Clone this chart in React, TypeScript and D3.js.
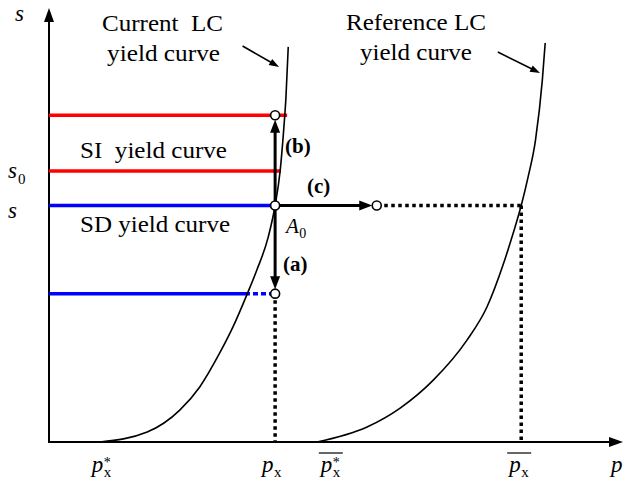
import React from 'react';
import * as d3 from 'd3';

const W = 624;
const H = 482;

// Yield curves in the (p, s) plane: [p, s]
const currentLC: [number, number][] = [
  [8.9, 0], [17.2, 2.3], [22.9, 7.4], [26.4, 12.8], [29.9, 20.7], [32.2, 26.7],
  [34.7, 34.4], [36.4, 40.0], [38.4, 47.7], [39.6, 55.0], [40.5, 63.3],
  [41.1, 72.6], [41.5, 80.2], [41.9, 91.9],
];
const referenceLC: [number, number][] = [
  [46.9, 0], [55.7, 3.5], [61.5, 7.9], [67.3, 14.4], [73.2, 23.7], [76.7, 31.4],
  [79.6, 41.5], [81.3, 48.6], [82.7, 55.0], [83.9, 61.6], [85.2, 70.2],
  [86.4, 84.2], [86.9, 92.8],
];

// Stress levels
const sA0 = 55;
const siLevels = [76, 63];
const siEnds = [41.7, 40.6];
const sdLevels = [55, 34.5];
const sdSolidEnd = 35.2;

// Key positions on the p axis
const pXStar = 8.9;
const pX = 39.6;
const pXStarBar = 46.9;
const pXBar = 82.7;
const pShift = 57.4;

// Pointer arrows from the curve captions: [from, to]
const currentPointer: [number, number][] = [[33.9, 92.1], [40.3, 87.2]];
const referencePointer: [number, number][] = [[78.6, 90.7], [86.0, 85.8]];

const xScale = d3.scaleLinear().domain([0, 100]).range([49, 620]);
const yScale = d3.scaleLinear().domain([0, 100]).range([442, 12]);

const curveLine = d3
  .line<[number, number]>()
  .x((d) => xScale(d[0]))
  .y((d) => yScale(d[1]))
  .curve(d3.curveMonotoneX);

const SERIF = '"Liberation Serif", "Times New Roman", serif';

function Arrow({ x1, y1, x2, y2, width, headLen, headW }: {
  x1: number; y1: number; x2: number; y2: number; width: number; headLen: number; headW: number;
}) {
  const dx = x2 - x1;
  const dy = y2 - y1;
  const len = Math.hypot(dx, dy);
  const ux = dx / len;
  const uy = dy / len;
  const bx = x2 - ux * headLen;
  const by = y2 - uy * headLen;
  const px = -uy * headW / 2;
  const py = ux * headW / 2;
  return (
    <g>
      <line x1={x1} y1={y1} x2={bx + ux} y2={by + uy} stroke="#000" strokeWidth={width} />
      <polygon points={`${x2},${y2} ${bx + px},${by + py} ${bx - px},${by - py}`} fill="#000" />
    </g>
  );
}

function OpenDot({ x, y }: { x: number; y: number }) {
  return <circle cx={x} cy={y} r={4.5} fill="#fff" stroke="#000" strokeWidth={1.6} />;
}

// p with subscript x, optional superscript star and overbar
function PLabel({ x, star, bar }: { x: number; star?: boolean; bar?: boolean }) {
  return (
    <g fontFamily={SERIF}>
      {bar && <line x1={x - 2} x2={x + 22} y1={453} y2={453} stroke="#000" strokeWidth={1.2} />}
      <text x={x} y={472} fontSize={23}>
        <tspan fontStyle="italic">p</tspan>
        <tspan fontSize={15} dx={0.5} dy={5}>x</tspan>
        {star && <tspan fontSize={14} dx={-7.5} dy={-10}>*</tspan>}
      </text>
    </g>
  );
}

export default function App() {
  const x0 = xScale(0);
  const y0 = yScale(0);
  const xA0 = xScale(pX);
  const yA0 = yScale(sA0);
  const ySiTop = yScale(siLevels[0]);
  const ySdLow = yScale(sdLevels[1]);
  const xShift = xScale(pShift);
  const xBar = xScale(pXBar);
  const r = 4.5;

  return (
    <svg width={W} height={H} style={{ position: 'absolute', left: 0, top: 0, background: '#fff' }}>
      {/* axes */}
      <line x1={x0} y1={y0} x2={x0} y2={18} stroke="#000" strokeWidth={2} />
      <polygon points={`${x0},8 ${x0 - 5},22 ${x0 + 5},22`} fill="#000" />
      <line x1={x0 - 1} y1={y0} x2={W - 12} y2={y0} stroke="#000" strokeWidth={2} />
      <polygon points={`${W - 1},${y0} ${W - 15},${y0 - 5} ${W - 15},${y0 + 5}`} fill="#000" />

      {/* SI yield curves */}
      {siLevels.map((s, i) => (
        <line key={`si${i}`} x1={x0} x2={xScale(siEnds[i])} y1={yScale(s)} y2={yScale(s)} stroke="#ff0000" strokeWidth={3.5} />
      ))}
      {/* SD yield curves */}
      <line x1={x0} x2={xA0} y1={yScale(sdLevels[0])} y2={yScale(sdLevels[0])} stroke="#0000ff" strokeWidth={3.5} />
      <line x1={x0} x2={xScale(sdSolidEnd)} y1={ySdLow} y2={ySdLow} stroke="#0000ff" strokeWidth={3.5} />
      <line x1={xScale(sdSolidEnd) + 3} x2={xA0 - r} y1={ySdLow} y2={ySdLow} stroke="#0000ff" strokeWidth={3.5} strokeDasharray="5,3" />

      {/* LC yield curves */}
      <path d={curveLine(currentLC) ?? ''} fill="none" stroke="#000" strokeWidth={1.6} />
      <path d={curveLine(referenceLC) ?? ''} fill="none" stroke="#000" strokeWidth={1.6} />

      {/* dotted guides */}
      <line x1={xA0} x2={xA0} y1={ySdLow + r + 2} y2={y0} stroke="#000" strokeWidth={3.5} strokeDasharray="3.5,3.5" />
      <line x1={xShift + r + 3} x2={xBar} y1={yA0} y2={yA0} stroke="#000" strokeWidth={3.5} strokeDasharray="3.5,3.5" />
      <line x1={xBar} x2={xBar} y1={yA0} y2={y0} stroke="#000" strokeWidth={3.5} strokeDasharray="3.5,3.5" />

      {/* load paths */}
      <Arrow x1={xA0} y1={yA0} x2={xA0} y2={ySiTop + r} width={3} headLen={13} headW={10} />
      <Arrow x1={xA0} y1={yA0} x2={xA0} y2={ySdLow - r} width={3} headLen={13} headW={10} />
      <Arrow x1={xA0} y1={yA0} x2={xShift - r} y2={yA0} width={3} headLen={13} headW={10} />
      <OpenDot x={xA0} y={ySiTop} />
      <OpenDot x={xA0} y={yA0} />
      <OpenDot x={xA0} y={ySdLow} />
      <OpenDot x={xShift} y={yA0} />

      {/* caption pointers */}
      <Arrow x1={xScale(currentPointer[0][0])} y1={yScale(currentPointer[0][1])} x2={xScale(currentPointer[1][0])} y2={yScale(currentPointer[1][1])} width={1.6} headLen={10} headW={7} />
      <Arrow x1={xScale(referencePointer[0][0])} y1={yScale(referencePointer[0][1])} x2={xScale(referencePointer[1][0])} y2={yScale(referencePointer[1][1])} width={1.6} headLen={10} headW={7} />

      {/* captions */}
      <g fontFamily={SERIF} fontSize={23.5} fill="#000">
        <text x={102} y={31} textLength={121} lengthAdjust="spacingAndGlyphs">{'Current\u00A0 LC'}</text>
        <text x={107} y={61} textLength={113} lengthAdjust="spacingAndGlyphs">yield curve</text>
        <text x={346} y={30} textLength={140} lengthAdjust="spacingAndGlyphs">Reference LC</text>
        <text x={360} y={60} textLength={112} lengthAdjust="spacingAndGlyphs">yield curve</text>
        <text x={80} y={158} textLength={147} lengthAdjust="spacingAndGlyphs">{'SI\u00A0 yield curve'}</text>
        <text x={80} y={232} textLength={150} lengthAdjust="spacingAndGlyphs">SD yield curve</text>
      </g>

      {/* path labels */}
      <g fontFamily={SERIF} fontSize={21} fontWeight="bold">
        <text x={285} y={153}>(b)</text>
        <text x={307} y={193}>(c)</text>
        <text x={283} y={271}>(a)</text>
      </g>
      <text x={286} y={233} fontFamily={SERIF} fontSize={21}>
        <tspan fontStyle="italic">A</tspan>
        <tspan fontSize={14} dx={0.5} dy={5}>0</tspan>
      </text>

      {/* s axis labels */}
      <g fontFamily={SERIF} fontSize={23}>
        <text x={15} y={21} fontStyle="italic">s</text>
        <text x={8} y={178}>
          <tspan fontStyle="italic">s</tspan>
          <tspan fontSize={15} dx={1} dy={6}>0</tspan>
        </text>
        <text x={8} y={218} fontStyle="italic">s</text>
      </g>

      {/* p axis labels */}
      <PLabel x={xScale(pXStar) - 8} star />
      <PLabel x={xScale(pX) - 13} />
      <PLabel x={xScale(pXStarBar) + 4} star bar />
      <PLabel x={xScale(pXBar) - 12} bar />
      <text x={611} y={472} fontFamily={SERIF} fontSize={23} fontStyle="italic">p</text>
    </svg>
  );
}
